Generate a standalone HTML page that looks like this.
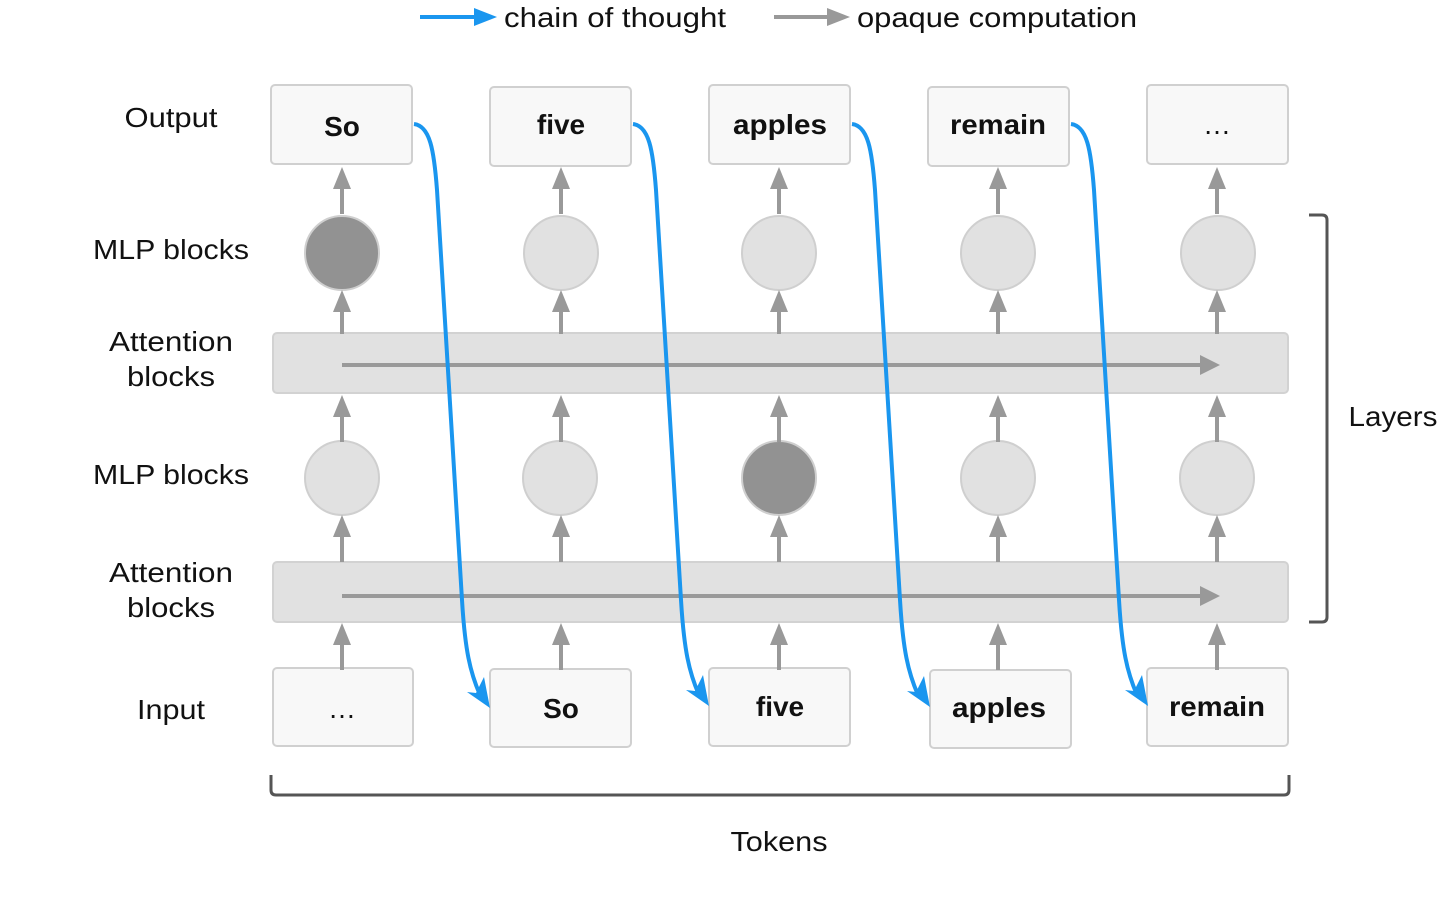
<!DOCTYPE html>
<html><head><meta charset="utf-8"><style>
html,body{margin:0;padding:0;background:#fff;}
svg{display:block;}
text{font-family:"Liberation Sans",sans-serif;}
</style></head><body>
<svg width="1439" height="917" viewBox="0 0 1439 917" xmlns="http://www.w3.org/2000/svg">
<defs>
<g id="ar"><polygon points="0,0 -9,22 9,22" fill="#999"/><rect x="-2" y="20" width="4" height="27" fill="#999"/></g>
<g id="ar2"><polygon points="0,0 -9,22 9,22" fill="#999"/><rect x="-2" y="20" width="4" height="24" fill="#999"/></g>
</defs>
<!-- legend -->
<line x1="420" y1="17" x2="478" y2="17" stroke="#1a96ef" stroke-width="4"/>
<polygon points="497,17 474,8 474,26" fill="#1a96ef"/>
<text x="504" y="27" font-size="28" fill="#111" textLength="222" lengthAdjust="spacingAndGlyphs">chain of thought</text>
<line x1="774" y1="17" x2="830" y2="17" stroke="#999" stroke-width="4"/>
<polygon points="850,17 827,8 827,26" fill="#999"/>
<text x="857" y="27" font-size="28" fill="#111" textLength="280" lengthAdjust="spacingAndGlyphs">opaque computation</text>

<!-- row labels -->
<g font-size="28" fill="#111" text-anchor="middle">
<text x="171" y="127" textLength="93" lengthAdjust="spacingAndGlyphs">Output</text>
<text x="171" y="259" textLength="156" lengthAdjust="spacingAndGlyphs">MLP blocks</text>
<text x="171" y="351" textLength="124" lengthAdjust="spacingAndGlyphs">Attention</text>
<text x="171" y="386" textLength="88" lengthAdjust="spacingAndGlyphs">blocks</text>
<text x="171" y="484" textLength="156" lengthAdjust="spacingAndGlyphs">MLP blocks</text>
<text x="171" y="582" textLength="124" lengthAdjust="spacingAndGlyphs">Attention</text>
<text x="171" y="617" textLength="88" lengthAdjust="spacingAndGlyphs">blocks</text>
<text x="171" y="719" textLength="68" lengthAdjust="spacingAndGlyphs">Input</text>
<text x="1393" y="426" textLength="89" lengthAdjust="spacingAndGlyphs">Layers</text>
<text x="779" y="851" textLength="97" lengthAdjust="spacingAndGlyphs">Tokens</text>
</g>

<!-- attention bars -->
<rect x="273" y="333" width="1015" height="60" rx="4" fill="#e1e1e1" stroke="#d2d2d2" stroke-width="2"/>
<rect x="273" y="562" width="1015" height="60" rx="4" fill="#e1e1e1" stroke="#d2d2d2" stroke-width="2"/>
<line x1="342" y1="365" x2="1200" y2="365" stroke="#999" stroke-width="4"/>
<polygon points="1220,365 1200,355 1200,375" fill="#999"/>
<line x1="342" y1="596" x2="1200" y2="596" stroke="#999" stroke-width="4"/>
<polygon points="1220,596 1200,586 1200,606" fill="#999"/>

<!-- boxes -->
<g fill="#f8f8f8" stroke="#d0d0d0" stroke-width="2">
<rect x="271" y="85" width="141" height="79" rx="4"/>
<rect x="490" y="87" width="141" height="79" rx="4"/>
<rect x="709" y="85" width="141" height="79" rx="4"/>
<rect x="928" y="87" width="141" height="79" rx="4"/>
<rect x="1147" y="85" width="141" height="79" rx="4"/>
<rect x="273" y="668" width="140" height="78" rx="4"/>
<rect x="490" y="669" width="141" height="78" rx="4"/>
<rect x="709" y="668" width="141" height="78" rx="4"/>
<rect x="930" y="670" width="141" height="78" rx="4"/>
<rect x="1147" y="668" width="141" height="78" rx="4"/>
</g>
<g font-size="28" font-weight="bold" fill="#111" text-anchor="middle">
<text x="342" y="136">So</text>
<text x="561" y="134">five</text>
<text x="780" y="134" textLength="94" lengthAdjust="spacingAndGlyphs">apples</text>
<text x="998" y="134" textLength="96" lengthAdjust="spacingAndGlyphs">remain</text>
<text x="1217" y="134" font-weight="normal">…</text>
<text x="342" y="718" font-weight="normal">…</text>
<text x="561" y="718">So</text>
<text x="780" y="716">five</text>
<text x="999" y="717" textLength="94" lengthAdjust="spacingAndGlyphs">apples</text>
<text x="1217" y="716" textLength="96" lengthAdjust="spacingAndGlyphs">remain</text>
</g>

<!-- circles -->
<g stroke="#cfcfcf" stroke-width="2">
<circle cx="342" cy="253" r="37" fill="#929292"/>
<circle cx="561" cy="253" r="37" fill="#e1e1e1"/>
<circle cx="779" cy="253" r="37" fill="#e1e1e1"/>
<circle cx="998" cy="253" r="37" fill="#e1e1e1"/>
<circle cx="1218" cy="253" r="37" fill="#e1e1e1"/>
<circle cx="342" cy="478" r="37" fill="#e1e1e1"/>
<circle cx="560" cy="478" r="37" fill="#e1e1e1"/>
<circle cx="779" cy="478" r="37" fill="#929292"/>
<circle cx="998" cy="478" r="37" fill="#e1e1e1"/>
<circle cx="1217" cy="478" r="37" fill="#e1e1e1"/>
</g>

<!-- vertical arrows -->
<use href="#ar" x="342" y="167"/><use href="#ar" x="561" y="167"/><use href="#ar" x="779" y="167"/><use href="#ar" x="998" y="167"/><use href="#ar" x="1217" y="167"/>
<use href="#ar2" x="342" y="290"/><use href="#ar2" x="561" y="290"/><use href="#ar2" x="779" y="290"/><use href="#ar2" x="998" y="290"/><use href="#ar2" x="1217" y="290"/>
<use href="#ar" x="342" y="395"/><use href="#ar" x="561" y="395"/><use href="#ar" x="779" y="395"/><use href="#ar" x="998" y="395"/><use href="#ar" x="1217" y="395"/>
<use href="#ar" x="342" y="515"/><use href="#ar" x="561" y="515"/><use href="#ar" x="779" y="515"/><use href="#ar" x="998" y="515"/><use href="#ar" x="1217" y="515"/>
<use href="#ar" x="342" y="623"/><use href="#ar" x="561" y="623"/><use href="#ar" x="779" y="623"/><use href="#ar" x="998" y="623"/><use href="#ar" x="1217" y="623"/>

<!-- blue chain of thought curves -->
<g fill="none" stroke="#1a96ef" stroke-width="4">
<path d="M414,124 C430,126 434,150 437,190 L462,600 C465,650 470,672 480,695"/>
<path d="M633,124 C649,126 653,150 656,190 L681,600 C684,650 689,672 699,695"/>
<path d="M852,124 C868,126 872,150 875,190 L900,600 C903,650 908,672 918,695"/>
<path d="M1071,124 C1087,126 1091,150 1094,190 L1119,600 C1122,650 1127,672 1137,695"/>
</g>
<g fill="#1a96ef">
<polygon points="490,708 467,692 476,693 484,677"/>
<polygon points="709,706 686,690 695,691 703,675"/>
<polygon points="930,707 907,691 916,692 924,676"/>
<polygon points="1148,706 1125,690 1134,691 1142,675"/>
</g>

<!-- brackets -->
<path d="M1309,215 H1322 Q1327,215 1327,220 V617 Q1327,622 1322,622 H1309" fill="none" stroke="#555" stroke-width="3"/>
<path d="M271,775 V790 Q271,795 276,795 H1284 Q1289,795 1289,790 V775" fill="none" stroke="#555" stroke-width="3"/>
</svg>
</body></html>
